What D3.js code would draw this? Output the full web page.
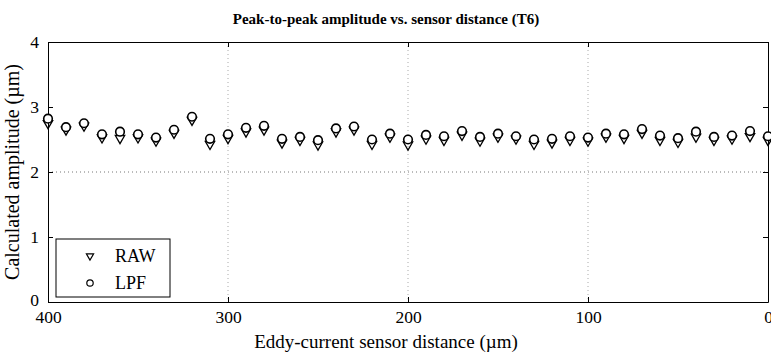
<!DOCTYPE html>
<html>
<head>
<meta charset="utf-8">
<script src="https://cdn.jsdelivr.net/npm/d3@7"></script>
<style>
  body { margin: 0; background: #fff; }
  text { font-family: "Liberation Serif", "Times New Roman", Times, serif; fill: #000; }
</style>
</head>
<body>
<svg id="chart" width="771" height="358"></svg>
<script>
// sensor distance (um), every 10 from 400 down to 0
var distances = d3.range(400, -1, -10);
// calculated peak-to-peak amplitude (um)
var rawValues = [2.75, 2.65, 2.71, 2.53, 2.52, 2.53, 2.48, 2.60, 2.80, 2.43,
                 2.52, 2.62, 2.65, 2.45, 2.49, 2.42, 2.62, 2.65, 2.43, 2.54,
                 2.42, 2.51, 2.49, 2.57, 2.48, 2.54, 2.51, 2.43, 2.45, 2.49,
                 2.48, 2.54, 2.52, 2.60, 2.49, 2.46, 2.54, 2.49, 2.51, 2.55, 2.49];
var lpfValues = [2.82, 2.69, 2.75, 2.58, 2.62, 2.58, 2.53, 2.65, 2.85, 2.51,
                 2.58, 2.68, 2.71, 2.51, 2.54, 2.49, 2.67, 2.70, 2.50, 2.59,
                 2.50, 2.57, 2.55, 2.63, 2.54, 2.59, 2.55, 2.50, 2.51, 2.55,
                 2.53, 2.59, 2.58, 2.66, 2.56, 2.52, 2.62, 2.54, 2.56, 2.63, 2.55];
var xTicks = [400, 300, 200, 100, 0];
var yTicks = [0, 1, 2, 3, 4];
var legendLabels = ["RAW", "LPF"];

var svg = d3.select("#chart");
var margin = {left: 48, right: 3, top: 42, bottom: 56};
var W = 771, H = 358;
var serif = "'Liberation Serif', 'Times New Roman', Times, serif";
var x = d3.scaleLinear().domain([400, 0]).range([margin.left, W - margin.right]);
var y = d3.scaleLinear().domain([0, 4]).range([H - margin.bottom, margin.top]);

var tri = d3.symbol().type(d3.symbolTriangle).size(38);

// dotted grid
svg.append("g").selectAll("line").data([300, 200, 100]).enter().append("line")
  .attr("x1", function(d) { return x(d); }).attr("x2", function(d) { return x(d); })
  .attr("y1", y(4)).attr("y2", y(0))
  .attr("stroke", "#aaa").attr("stroke-dasharray", "1,3");
svg.append("line")
  .attr("x1", x(400)).attr("x2", x(0)).attr("y1", y(2)).attr("y2", y(2))
  .attr("stroke", "#777").attr("stroke-dasharray", "1,3");

// axes (ticks inward on all four sides)
var fmt = d3.format("d");
var axBottom = svg.append("g").attr("transform", "translate(0," + y(0) + ")")
  .call(d3.axisBottom(x).tickValues(xTicks).tickSizeInner(-5).tickSizeOuter(0).tickPadding(9).tickFormat(fmt));
var axTop = svg.append("g").attr("transform", "translate(0," + y(4) + ")")
  .call(d3.axisTop(x).tickValues(xTicks).tickSizeInner(-5).tickSizeOuter(0).tickFormat(""));
var axLeft = svg.append("g").attr("transform", "translate(" + x(400) + ",0)")
  .call(d3.axisLeft(y).tickValues(yTicks).tickSizeInner(-5).tickSizeOuter(0).tickPadding(9).tickFormat(fmt));
var axRight = svg.append("g").attr("transform", "translate(" + x(0) + ",0)")
  .call(d3.axisRight(y).tickValues(yTicks).tickSizeInner(-5).tickSizeOuter(0).tickFormat(""));
[axBottom, axTop, axLeft, axRight].forEach(function(g) {
  g.attr("font-family", serif).attr("font-size", 17.5);
  g.selectAll("path, line").attr("stroke", "#000");
});
// lift the y "0" label a touch so it clears the x "400" label
axLeft.selectAll(".tick text").filter(function(d) { return d === 0; }).attr("dy", "0.2em");

// markers: triangles (RAW) then circles (LPF)
svg.append("g").selectAll("path").data(rawValues).enter().append("path")
  .attr("d", tri)
  .attr("transform", function(d, i) { return "translate(" + x(distances[i]) + "," + y(d) + ") rotate(180)"; })
  .attr("fill", "none").attr("stroke", "#000").attr("stroke-width", 1.3);
svg.append("g").selectAll("circle").data(lpfValues).enter().append("circle")
  .attr("cx", function(d, i) { return x(distances[i]); })
  .attr("cy", function(d) { return y(d); })
  .attr("r", 4.3)
  .attr("fill", "#fff").attr("stroke", "#000").attr("stroke-width", 1.6);

// legend
var lg = svg.append("g").attr("transform", "translate(56,239)");
lg.append("rect").attr("width", 114).attr("height", 58)
  .attr("fill", "#fff").attr("stroke", "#000").attr("stroke-width", 1);
lg.append("path").attr("d", d3.symbol().type(d3.symbolTriangle).size(22))
  .attr("transform", "translate(34,17) rotate(180)")
  .attr("fill", "none").attr("stroke", "#000").attr("stroke-width", 1.2);
lg.append("circle").attr("cx", 34).attr("cy", 44).attr("r", 3.2)
  .attr("fill", "none").attr("stroke", "#000").attr("stroke-width", 1.2);
lg.selectAll("text.lab").data(legendLabels).enter().append("text")
  .attr("class", "lab")
  .attr("x", 59).attr("y", function(d, i) { return 17 + i * 27; })
  .attr("dy", "0.35em").style("font-size", "18px").text(function(d) { return d; });

// titles
svg.append("text").attr("x", 386).attr("y", 24).attr("text-anchor", "middle")
  .style("font-size", "15px").style("font-weight", "bold")
  .text("Peak-to-peak amplitude vs. sensor distance (T6)");
svg.append("text").attr("x", 386).attr("y", 348).attr("text-anchor", "middle")
  .style("font-size", "19px").text("Eddy-current sensor distance (\u00b5m)");
svg.append("text").attr("transform", "translate(19," + y(2) + ") rotate(-90)")
  .attr("text-anchor", "middle").style("font-size", "20px")
  .text("Calculated amplitude (\u00b5m)");
</script>
</body>
</html>
